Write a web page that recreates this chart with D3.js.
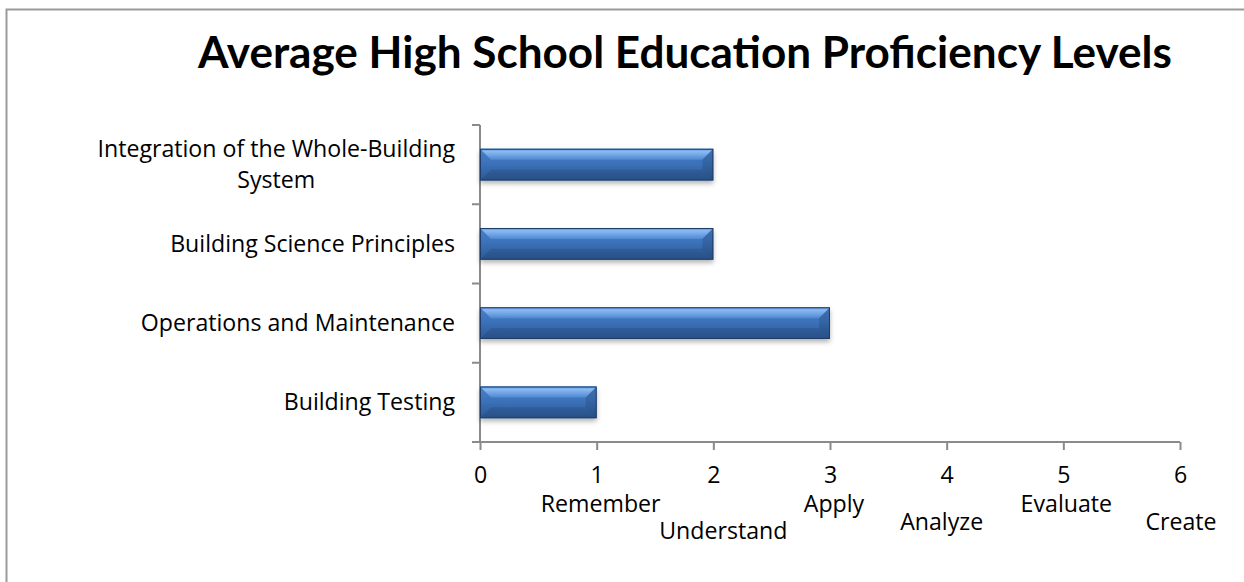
<!DOCTYPE html>
<html>
<head>
<meta charset="utf-8">
<script src="https://cdn.jsdelivr.net/npm/d3@7"></script>
<style>
  html, body { margin: 0; padding: 0; background: #fff; }
  svg { display: block; }
</style>
</head>
<body>
<div id="chart"></div>
<script>
// chart data
const title = "Average High School Education Proficiency Levels";
const categories = [
  "Integration of the Whole-Building System",
  "Building Science Principles",
  "Operations and Maintenance",
  "Building Testing"
];
const values = [2, 2, 3, 1];
const xTicks = [0, 1, 2, 3, 4, 5, 6];
const levelNames = ["Remember", "Understand", "Apply", "Analyze", "Evaluate", "Create"];

// where each level label sits (dx from its tick, baseline y)
const levelLayout = [[4, 512], [10, 539], [4, 512], [-5, 530], [3, 512], [1, 530]];

var W = 1244, H = 582;
var margin = { top: 125, right: 64, bottom: 140, left: 480 };
var font = "'Open Sans', sans-serif";
var titleFont = "Lato, 'Open Sans', sans-serif";
var axisColor = "#8a8a8a";

var svg = d3.select("#chart").append("svg")
  .attr("width", W)
  .attr("height", H);

// size body text so a known label matches its width in the reference
var probe = svg.append("text")
  .style("font-family", font).style("font-size", "20px")
  .text("Building Science Principles");
var fs = 20 * 285 / probe.node().getComputedTextLength();
probe.remove();
var fsPx = fs + "px";

var defs = svg.append("defs");

// body gradient of the bars
var g1 = defs.append("linearGradient").attr("id", "barBody")
  .attr("x1", 0).attr("y1", 0).attr("x2", 0).attr("y2", 1);
g1.append("stop").attr("offset", "0%").attr("stop-color", "#4a80c8");
g1.append("stop").attr("offset", "45%").attr("stop-color", "#3c72ba");
g1.append("stop").attr("offset", "100%").attr("stop-color", "#2c5995");

var g2 = defs.append("linearGradient").attr("id", "barTop")
  .attr("x1", 0).attr("y1", 0).attr("x2", 0).attr("y2", 1);
g2.append("stop").attr("offset", "0%").attr("stop-color", "#5d95dc");
g2.append("stop").attr("offset", "25%").attr("stop-color", "#8abaf2");
g2.append("stop").attr("offset", "100%").attr("stop-color", "#4f88d1");

var shadow = defs.append("filter").attr("id", "shadow")
  .attr("x", "-5%").attr("y", "-20%").attr("width", "110%").attr("height", "160%");
shadow.append("feDropShadow")
  .attr("dx", 0).attr("dy", 3).attr("stdDeviation", 2.5)
  .attr("flood-color", "#000").attr("flood-opacity", 0.3);

// outer chart border
svg.append("rect")
  .attr("x", 6.5).attr("y", 9.5)
  .attr("width", W + 20).attr("height", H + 20)
  .attr("fill", "none")
  .attr("stroke", "#9a9a9a")
  .attr("stroke-width", 2);

// title, sized to its width in the reference
var titleText = svg.append("text")
  .attr("x", 685).attr("y", 68)
  .attr("text-anchor", "middle")
  .style("font-family", titleFont)
  .style("font-weight", "bold")
  .style("font-size", "34px")
  .attr("fill", "#000")
  .text(title);
var tw = titleText.node().getComputedTextLength();
titleText.style("font-size", (34 * 974 / tw) + "px");

var x = d3.scaleLinear()
  .domain([0, 6])
  .range([margin.left, W - margin.right]);

var y = d3.scaleBand()
  .domain(categories)
  .range([margin.top, H - margin.bottom])
  .paddingInner(0.6)
  .paddingOuter(0.3);

var step = y.step();
var bw = y.bandwidth();

// x axis
var xAxis = svg.append("g")
  .attr("transform", "translate(0," + (H - margin.bottom) + ")")
  .call(d3.axisBottom(x).tickValues(xTicks).tickSize(8).tickSizeOuter(0).tickFormat(d3.format("d")));
xAxis.select(".domain").attr("stroke", axisColor).attr("stroke-width", 2)
  .attr("d", "M" + (margin.left - 8) + ",0H" + (W - margin.right));
xAxis.selectAll(".tick line").attr("stroke", axisColor).attr("stroke-width", 2);
xAxis.selectAll(".tick text")
  .attr("y", 41).attr("dy", 0)
  .style("font-family", font)
  .style("font-size", fsPx)
  .attr("fill", "#000");

// y axis: ticks at band boundaries
var bounds = categories.map(function (c) { return y(c) - (step - bw) / 2; });
bounds.push(H - margin.bottom);
var yAxis = svg.append("g");
yAxis.append("line")
  .attr("x1", margin.left).attr("x2", margin.left)
  .attr("y1", margin.top).attr("y2", H - margin.bottom)
  .attr("stroke", axisColor).attr("stroke-width", 2);
yAxis.selectAll("line.tk").data(bounds).enter().append("line")
  .attr("class", "tk")
  .attr("x1", margin.left - 8).attr("x2", margin.left)
  .attr("y1", function (d) { return d; }).attr("y2", function (d) { return d; })
  .attr("stroke", axisColor).attr("stroke-width", 2);

// category labels (wrapped, centred lines, right edge at 455)
var labelRight = 455, lineH = 31, maxW = 380;
categories.forEach(function (c) {
  var t = svg.append("text")
    .style("font-family", font)
    .style("font-size", fsPx)
    .attr("fill", "#000");
  var words = c.split(" "), lines = [], line = [];
  words.forEach(function (w) {
    line.push(w);
    t.text(line.join(" "));
    if (t.node().getComputedTextLength() > maxW && line.length > 1) {
      line.pop();
      lines.push(line.join(" "));
      line = [w];
    }
  });
  lines.push(line.join(" "));
  var widths = lines.map(function (l) {
    t.text(l);
    return t.node().getComputedTextLength();
  });
  t.text(null);
  var blockW = d3.max(widths);
  var cx = labelRight - blockW / 2;
  var cy = y(c) + bw / 2;
  var y0 = cy - (lines.length - 1) * lineH / 2;
  t.attr("text-anchor", "middle");
  lines.forEach(function (l, i) {
    t.append("tspan")
      .attr("x", cx)
      .attr("y", y0 + i * lineH)
      .attr("dy", "0.35em")
      .text(l);
  });
});

// bars with a bevel
var b = 11;
var bars = svg.selectAll("g.bar")
  .data(categories.map(function (c, i) { return { cat: c, v: values[i] }; }))
  .enter().append("g")
  .attr("class", "bar");

bars.append("rect")
  .attr("x", x(0))
  .attr("y", function (d) { return y(d.cat); })
  .attr("width", function (d) { return x(d.v) - x(0); })
  .attr("height", bw)
  .attr("fill", "url(#barBody)")
  .attr("filter", "url(#shadow)");

bars.append("path")
  .attr("fill", "url(#barTop)")
  .attr("d", function (d) {
    var x0 = x(0), x1 = x(d.v), y0 = y(d.cat);
    return "M" + x0 + "," + y0 + "L" + x1 + "," + y0 + "L" + (x1 - b) + "," + (y0 + b) +
      "L" + (x0 + b) + "," + (y0 + b) + "Z";
  });

bars.append("path")
  .attr("fill", "#000").attr("opacity", 0.12)
  .attr("d", function (d) {
    var x1 = x(d.v), y0 = y(d.cat), y1 = y0 + bw;
    return "M" + x1 + "," + y0 + "L" + x1 + "," + y1 + "L" + (x1 - b) + "," + (y1 - b) +
      "L" + (x1 - b) + "," + (y0 + b) + "Z";
  });

bars.append("path")
  .attr("fill", "#000").attr("opacity", 0.1)
  .attr("d", function (d) {
    var x0 = x(0), x1 = x(d.v), y1 = y(d.cat) + bw;
    return "M" + x0 + "," + y1 + "L" + (x0 + b) + "," + (y1 - b) + "L" + (x1 - b) + "," + (y1 - b) +
      "L" + x1 + "," + y1 + "Z";
  });

bars.append("rect")
  .attr("x", x(0) + 0.5)
  .attr("y", function (d) { return y(d.cat) + 0.5; })
  .attr("width", function (d) { return x(d.v) - x(0) - 1; })
  .attr("height", bw - 1)
  .attr("fill", "none")
  .attr("stroke", "#1d3d68")
  .attr("stroke-width", 1);

// proficiency level labels under the ticks
svg.selectAll("text.level")
  .data(levelNames)
  .enter().append("text")
  .attr("class", "level")
  .attr("x", function (d, i) { return x(i + 1) + levelLayout[i][0]; })
  .attr("y", function (d, i) { return levelLayout[i][1]; })
  .attr("text-anchor", "middle")
  .style("font-family", font)
  .style("font-size", fsPx)
  .attr("fill", "#000")
  .text(function (d) { return d; });
</script>
</body>
</html>
